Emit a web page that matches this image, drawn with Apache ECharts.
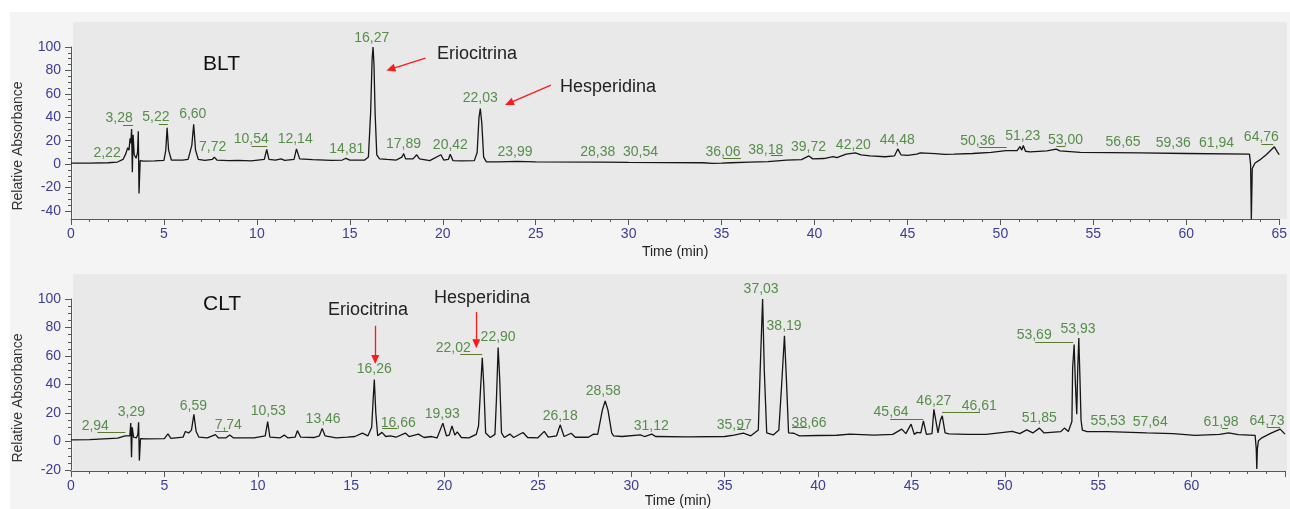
<!DOCTYPE html>
<html><head><meta charset="utf-8">
<script src="https://cdn.jsdelivr.net/npm/echarts@6/dist/echarts.min.js"></script>
<style>html,body{margin:0;padding:0;background:#fff}#c{width:1290px;height:509px}</style>
</head><body><div id="c"></div>
<script>
// ---------- DATA ----------
const xTicks = [0,5,10,15,20,25,30,35,40,45,50,55,60,65];
const bltYRange = [-40,100];
const cltYRange = [-20,100];

// BLT chromatogram [time(min), relative absorbance]
const bltSignal = [[0,0.8],[1,0.9],[2,1.2],[2.5,1.8],[2.8,4],[2.95,9],[3.05,14],[3.12,12],[3.18,22],[3.22,18],[3.26,30],[3.3,-7],[3.34,25],[3.4,8],[3.5,5],[3.58,10],[3.62,28],[3.66,-25],[3.72,3],[3.9,2.5],[4.5,2.8],[5.0,3.2],[5.1,12],[5.17,31],[5.25,12],[5.4,3.5],[6.0,3.5],[6.3,4],[6.5,16],[6.6,34],[6.7,12],[6.85,4],[7.2,3.2],[7.6,4],[7.71,6],[7.85,3.5],[8.5,3],[9,3.3],[9.7,2.8],[10.4,4],[10.53,12.5],[10.65,4],[11,3.5],[11.3,4.5],[11.5,3.3],[12.0,4],[12.13,13],[12.3,4.5],[13,3.8],[14,3.3],[14.6,3.5],[14.79,5],[15,3.5],[15.8,3.5],[16.0,6],[16.12,44],[16.2,90],[16.25,100],[16.3,85],[16.36,44],[16.45,8],[16.6,4.5],[17,4],[17.5,3.5],[17.8,6],[17.9,9],[18,4.5],[18.4,4.5],[18.6,8],[18.75,4.5],[19.3,3],[19.9,8],[20.05,3.5],[20.3,4],[20.4,8.5],[20.55,3],[21,2.8],[21.7,3],[21.85,10],[21.95,40],[22.02,47.5],[22.1,35],[22.2,6],[22.35,2],[23,2],[24,2.3],[25,2],[28.3,1.8],[28.4,3],[28.5,1.8],[30,1.5],[32,1.3],[34,1.2],[34.5,0.6],[35,0.8],[35.5,1.2],[36.5,1.8],[37.5,2.2],[38.5,3.5],[39.3,3.8],[39.7,7],[39.9,4.5],[40.5,4.8],[41,6.5],[41.2,5.5],[41.7,8.5],[42.2,9.7],[42.5,8],[43,7],[43.8,6.3],[44.3,7],[44.48,13],[44.65,8],[45,7.4],[45.5,8.5],[45.7,9.7],[46.5,9],[47,8.3],[47.5,8.5],[48.5,9.1],[49.5,10],[50.3,11.5],[50.9,11.5],[51.05,15],[51.15,12],[51.23,16],[51.35,11],[51.6,10.5],[52.5,11.3],[53,12.8],[53.2,11.3],[54.3,10],[57.5,9.6],[60,9.1],[63.4,8.5],[63.46,0],[63.5,-47],[63.55,-3.7],[63.7,1],[63.94,3.4],[64.3,8],[64.74,14.8],[64.9,10.5],[65,8]];

// CLT chromatogram [time(min), relative absorbance]
const cltSignal = [[0,1.2],[1,1.3],[2,2],[2.5,2.3],[2.9,4],[3.0,5.2],[3.15,4],[3.2,13],[3.24,-11],[3.28,10],[3.35,3],[3.5,2.5],[3.58,5],[3.62,13.5],[3.66,-13.4],[3.72,2],[4.1,1.8],[5.0,2],[5.19,5.3],[5.35,2.2],[6.0,3],[6.12,7],[6.3,6],[6.45,8],[6.58,19],[6.7,7],[6.85,3],[7.3,2.5],[7.73,4.8],[7.9,2.5],[8.3,2.6],[8.5,4.5],[8.7,2.5],[9.8,2.6],[10.4,4],[10.53,14],[10.65,3],[11.2,2.6],[11.42,4.5],[11.6,2.6],[12.0,3],[12.12,7.6],[12.3,3],[13,2.8],[13.3,4],[13.45,9.2],[13.6,4],[14.2,2.5],[14.8,3],[15.2,3.5],[15.6,5.9],[15.9,4],[16.1,10],[16.18,30],[16.24,43.5],[16.32,20],[16.42,4],[16.65,6.4],[16.85,3.5],[17.1,4],[17.4,3],[17.9,5.9],[18.1,3.5],[18.6,5.2],[18.9,2.8],[19.3,3.5],[19.6,2.5],[19.91,12.9],[20.1,4],[20.25,4.5],[20.4,10.9],[20.55,4.5],[20.68,6.7],[20.9,2.8],[21.3,2.5],[21.7,5],[21.82,10.9],[21.92,35],[22.02,58.7],[22.1,40],[22.2,6],[22.45,2.8],[22.7,5],[22.78,30],[22.87,66],[22.95,45],[23.05,6],[23.2,2.8],[23.5,5.2],[23.7,2.8],[24.2,6.3],[24.45,2.8],[25,2.6],[25.34,7.1],[25.55,3],[26.0,4],[26.19,11.7],[26.4,3.5],[26.78,5.8],[27,3],[27.7,3],[27.98,5.2],[28.2,5],[28.45,22],[28.6,28.4],[28.75,22],[28.95,6],[29.05,4],[29.5,3.5],[30.48,4.6],[30.7,3.5],[31.1,5.2],[31.3,3.5],[33,3.3],[35,3.5],[35.5,4.5],[36,5.8],[36.4,4],[36.8,8],[36.9,50],[37.03,100],[37.12,50],[37.25,6],[37.6,4.6],[37.9,8],[38.05,40],[38.2,74.2],[38.3,45],[38.42,6],[38.7,5.8],[39,4],[40,4.2],[41,4.4],[41.7,5.2],[43,4.5],[44,5],[44.48,8.7],[44.7,5.5],[44.98,12.2],[45.15,5],[45.3,6.4],[45.5,6],[45.64,14.5],[45.8,5],[46.1,5.5],[46.2,22.6],[46.3,22.6],[46.42,6],[46.55,15],[46.65,18],[46.8,6],[47,5.3],[48,5],[49,5],[50.4,7.1],[50.8,5.5],[51.17,8.2],[51.5,6],[51.85,9.4],[52.1,6],[53,7],[53.19,9.4],[53.4,7],[53.59,14],[53.63,51.7],[53.71,68],[53.78,40],[53.85,19.2],[53.9,50],[53.96,72.6],[54.02,45],[54.08,15],[54.15,8],[54.4,7],[55.5,7],[57.6,6],[59,5.5],[60.19,4.3],[61.5,5],[61.98,6],[62.5,4.8],[63.4,4.3],[63.46,-5],[63.49,-19.2],[63.52,-5],[63.58,0.6],[63.76,2.6],[64.2,5.5],[64.74,8.7],[65,5.2]];

// Retention-time labels (text, label anchor time, label anchor value)
const bltPeakNames = ['2,22','3,28','5,22','6,60','7,72','10,54','12,14','14,81','16,27','17,89','20,42','22,03','23,99','28,38','30,54','36,06','38,18','39,72','42,20','44,48','50,36','51,23','53,00','56,65','59,36','61,94','64,76'];
const bltPeakLabelT = [1.94,2.59,4.57,6.55,7.62,9.70,12.06,14.84,16.18,17.89,20.41,22.02,23.89,28.34,30.64,35.08,37.38,39.68,42.09,44.45,48.78,51.2,53.5,56.6,59.3,61.63,64.04];
const bltPeakLabelV = [9.4,39.3,40,42.7,14.5,21.4,21.4,12.8,107.7,17.1,16.2,56.4,10.3,10.3,10.3,10.3,12,14.5,16.2,20.5,19.7,23.9,20.5,18.8,17.9,17.9,23];
const cltPeakNames = ['2,94','3,29','6,59','7,74','10,53','13,46','16,26','16,66','19,93','22,02','22,90','26,18','28,58','31,12','35,97','37,03','38,19','38,66','45,64','46,27','46,61','51,85','53,69','53,93','55,53','57,64','61,98','64,73'];
const cltPeakLabelT = [1.30,3.23,6.55,8.42,10.56,13.50,16.24,17.52,19.88,20.47,22.87,26.19,28.5,31.07,35.51,36.95,38.18,39.52,43.91,46.2,48.63,51.84,51.57,53.92,55.53,57.78,61.58,64.04];
const cltPeakLabelV = [10.8,20.6,24.7,11.5,21.3,15.7,50.5,12.9,19.2,65.5,73.2,17.8,35.2,10.8,11.5,107,81.2,12.9,20.6,28.2,24.7,16.4,74.6,78.7,14.3,13.6,13.6,14.3];

// Leader lines under labels [t start, t end, value]
const bltLeaders = [[2.80,3.34,33.3],[4.73,5.21,34.2],[9.71,10.56,15.4],[35.08,36.04,5.1],[37.65,38.29,7.7],[48.84,50.34,14.5],[53.01,53.49,15.4],[64.04,64.68,17.1]];
const cltLeaders = [[1.41,2.91,6.4],[7.72,8.42,7.3],[16.66,17.47,9.4],[20.84,22.02,61],[35.67,36.1,8.7],[38.61,39.41,10.1],[43.86,45.63,15.7],[46.64,48.67,20.6],[51.62,53.66,70],[61.63,61.95,9.4],[64.04,64.74,10.1]];

// Red annotation arrows [t tail, v tail, t head, v head]
const bltArrows = [[19.07,90.6,17.2,81.2],[25.82,67.5,23.57,52.1]];
const cltArrows = [[16.29,81.2,16.29,57.5],[21.7,90.9,21.7,68.6]];

// ---------- CHART ----------
const FONT = '"Liberation Sans", Arial, sans-serif';
const axisColor = '#4f5b5b';
const tickLabelColor = '#3c3c98';
const green = '#2f7620';

function xAxisCfg(gi, hideLast, gap, offset){
  return {
    type:'value', gridIndex:gi, min:xTicks[0], max:xTicks[xTicks.length-1], interval:5, offset:offset,
    name:'Time (min)', nameLocation:'middle', nameGap:gap,
    nameTextStyle:{color:'#222', fontSize:14, fontFamily:FONT},
    axisLine:{onZero:false, lineStyle:{color:axisColor, width:1}},
    axisTick:{show:true, length:6, lineStyle:{color:axisColor}},
    minorTick:{show:true, splitNumber:5, length:3, lineStyle:{color:axisColor}},
    splitLine:{show:false}, minorSplitLine:{show:false},
    axisLabel:{color:tickLabelColor, fontSize:14, fontFamily:FONT, margin:8, showMaxLabel:true, hideOverlap:false,
      formatter:v => (hideLast && v===65) ? '' : String(v)}
  };
}
function yAxisCfg(gi, range){
  return {
    type:'value', gridIndex:gi, min:range[0], max:range[1], interval:20,
    axisLine:{show:true, onZero:false, lineStyle:{color:axisColor}},
    axisTick:{show:true, length:6, lineStyle:{color:axisColor}},
    minorTick:{show:true, splitNumber:4, length:3, lineStyle:{color:axisColor}},
    axisLabel:{color:tickLabelColor, fontSize:14, fontFamily:FONT, margin:10},
    splitLine:{show:false}, minorSplitLine:{show:false}
  };
}
function labelSeries(xi, yi, names, ts, vs, leaders){
  return {
    type:'scatter', xAxisIndex:xi, yAxisIndex:yi, clip:false, symbolSize:0, silent:true, z:5,
    data: names.map((n,i)=>({name:n, value:[ts[i], vs[i]]})),
    label:{show:true, position:'inside', formatter:p=>p.name, color:green, fontSize:14, fontFamily:FONT},
    markLine:{silent:true, symbol:'none', animation:false, label:{show:false},
      lineStyle:{color:'#5a7a30', width:1, type:'solid'},
      data: leaders.map(l=>[{coord:[l[0],l[2]]},{coord:[l[1],l[2]]}])}
  };
}
function arrowSeries(xi, yi, arrows){
  return {
    type:'line', xAxisIndex:xi, yAxisIndex:yi, data:[], silent:true,
    markLine:{silent:true, animation:false, symbol:['none','triangle'], symbolSize:[8,9], label:{show:false},
      lineStyle:{color:'#ff1a1a', width:1.3, type:'solid'},
      emphasis:{disabled:true},
      data: arrows.map(a=>[{coord:[a[0],a[1]]},{coord:[a[2],a[3]]}])}
  };
}
function traceSeries(xi, yi, pts){
  return {type:'line', xAxisIndex:xi, yAxisIndex:yi, data:pts, showSymbol:false, clip:false,
    lineStyle:{color:'#151515', width:1.3}, z:3, silent:true};
}

const chart = echarts.init(document.getElementById('c'), null, {renderer:'canvas'});
chart.setOption({
  animation:false,
  backgroundColor:'#ffffff',
  grid:[
    {left:71, top:47, width:1214, height:164},
    {left:71, top:299, width:1214, height:172}
  ],
  xAxis:[xAxisCfg(0,false,26,8), xAxisCfg(1,true,23,1)],
  yAxis:[yAxisCfg(0,bltYRange), yAxisCfg(1,cltYRange)],
  graphic:[
    {type:'rect', z:-100, silent:true, shape:{x:10,y:12,width:1280,height:497}, style:{fill:'#f4f4f4'}},
    {type:'rect', z:-99, silent:true, shape:{x:73,y:22,width:1214,height:197}, style:{fill:'#e9e9e9'}},
    {type:'rect', z:-99, silent:true, shape:{x:73,y:274,width:1214,height:198}, style:{fill:'#e9e9e9'}},
    {type:'line', z:10, silent:true, shape:{x1:71.5,y1:211,x2:71.5,y2:219.5}, style:{stroke:axisColor, lineWidth:1}},
    {type:'line', z:10, silent:true, shape:{x1:71.5,y1:471,x2:71.5,y2:472.5}, style:{stroke:axisColor, lineWidth:1}},
    {type:'text', x:18, y:146, rotation:Math.PI/2, silent:true, style:{text:'Relative Absorbance', font:'14px '+FONT, fill:'#333', align:'center', verticalAlign:'middle'}},
    {type:'text', x:18, y:398, rotation:Math.PI/2, silent:true, style:{text:'Relative Absorbance', font:'14px '+FONT, fill:'#333', align:'center', verticalAlign:'middle'}},
    {type:'text', x:203, y:64, silent:true, style:{text:'BLT', font:'21px '+FONT, fill:'#111', verticalAlign:'middle'}},
    {type:'text', x:437, y:54, silent:true, style:{text:'Eriocitrina', font:'18px '+FONT, fill:'#222', verticalAlign:'middle'}},
    {type:'text', x:560, y:87, silent:true, style:{text:'Hesperidina', font:'18px '+FONT, fill:'#222', verticalAlign:'middle'}},
    {type:'text', x:203, y:304, silent:true, style:{text:'CLT', font:'21px '+FONT, fill:'#111', verticalAlign:'middle'}},
    {type:'text', x:328, y:310, silent:true, style:{text:'Eriocitrina', font:'18px '+FONT, fill:'#222', verticalAlign:'middle'}},
    {type:'text', x:434, y:298, silent:true, style:{text:'Hesperidina', font:'18px '+FONT, fill:'#222', verticalAlign:'middle'}}
  ],
  series:[
    traceSeries(0,0,bltSignal),
    labelSeries(0,0,bltPeakNames,bltPeakLabelT,bltPeakLabelV,bltLeaders),
    arrowSeries(0,0,bltArrows),
    traceSeries(1,1,cltSignal),
    labelSeries(1,1,cltPeakNames,cltPeakLabelT,cltPeakLabelV,cltLeaders),
    arrowSeries(1,1,cltArrows)
  ]
});
</script></body></html>
